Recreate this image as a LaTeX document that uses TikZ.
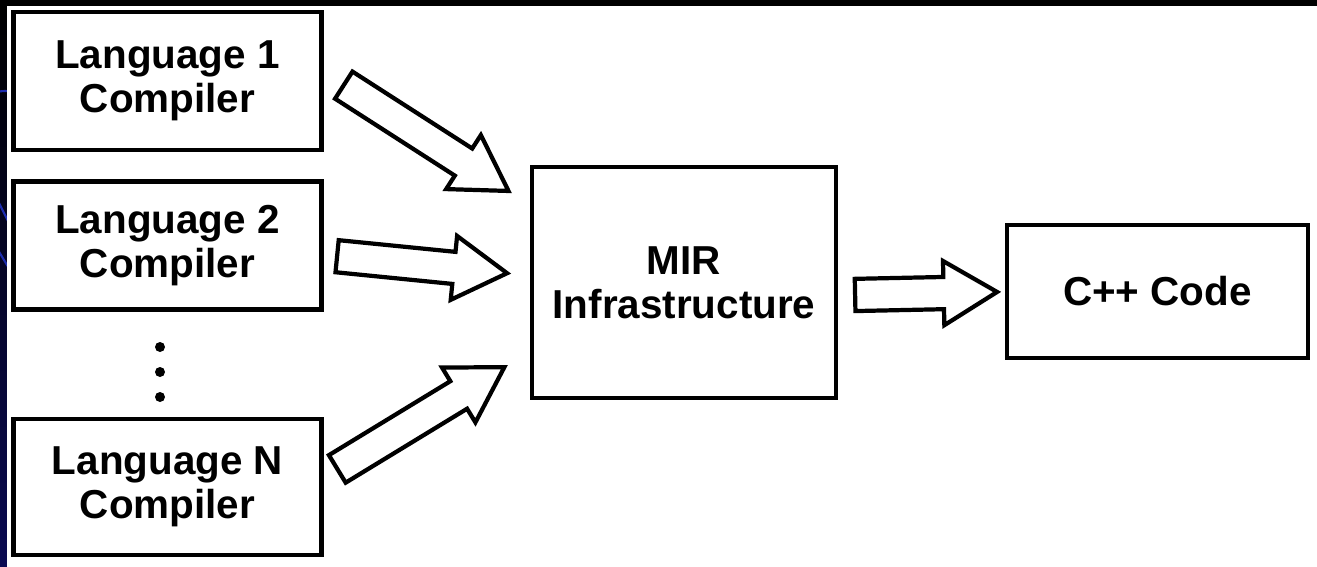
\documentclass[tikz,border=0pt]{standalone}
\usepackage{fontspec}
\setmainfont{Liberation Sans}
\usetikzlibrary{shapes.arrows,calc}

\definecolor{stripnavy}{RGB}{10,10,82}
\definecolor{curveblue}{RGB}{30,45,175}

\tikzset{
  compbox/.style={draw, line width=2.7pt, align=center, inner sep=0pt,
    font=\bfseries\fontsize{23}{25}\selectfont},
  fatarrow/.style={single arrow, draw, line width=2.4pt, fill=white,
    inner xsep=0pt, inner ysep=0.28cm, minimum width=0pt,
    single arrow head extend=0.32cm, single arrow tip angle=62},
  dot/.style={circle, fill, inner sep=0pt, minimum size=0.2cm}
}

\begin{document}
\begin{tikzpicture}
	\useasboundingbox (0,0) rectangle (26.34,-11.34);
	
	% Hintergrund: schwarzer Rand oben, blauer Streifen links
	\fill[white] (0,0) rectangle (26.34,-11.34);
	\fill[black] (0,0) rectangle (26.34,-0.12);
	\shade[top color=black, bottom color=stripnavy] (0,-0.12) rectangle (0.14,-11.34);
	\begin{scope}
		\clip (0,-0.12) rectangle (0.14,-11.34);
		\draw[curveblue, line width=1.2pt] (-0.2,-1.9) arc[start angle=120, end angle=60, radius=0.6];
		\draw[curveblue, line width=1.2pt] (-0.1,-3.9) -- (0.2,-4.5);
		\draw[curveblue, line width=1.2pt] (-0.1,-4.9) -- (0.2,-5.4);
	\end{scope}
	
	% Kaesten
	\node[compbox, minimum width=6.16cm, minimum height=2.76cm] (lang1) at (3.35,-1.62) {Language 1\\Compiler};
	\node[compbox, minimum width=6.16cm, minimum height=2.56cm] (lang2) at (3.35,-4.91) {Language 2\\Compiler};
	\node[compbox, minimum width=6.16cm, minimum height=2.72cm] (langn) at (3.35,-9.74) {Language N\\Compiler};
	\node[compbox, minimum width=6.08cm, minimum height=4.62cm] (mir) at (13.68,-5.65) {MIR\\Infrastructure};
	\node[compbox, minimum width=6.02cm, minimum height=2.66cm] (cpp) at (23.15,-5.83) {C++ Code};
	
	% Punkte
	\node[dot] (dot1) at (3.2,-6.94) {};
	\node[dot] (dot2) at (3.2,-7.44) {};
	\node[dot] (dot3) at (3.2,-7.94) {};
	
	% Pfeile
	\coordinate (a1s) at (6.84,-1.68);
	\coordinate (a1t) at (10.14,-3.80);
	\coordinate (a2s) at (6.70,-5.12);
	\coordinate (a2t) at (10.10,-5.46);
	\coordinate (a3s) at (6.71,-9.40);
	\coordinate (a3t) at (10.06,-7.36);
	\coordinate (a4s) at (17.06,-5.90);
	\coordinate (a4t) at (19.90,-5.84);
	
	\foreach \s/\t in {a1s/a1t, a2s/a2t, a3s/a3t, a4s/a4t}
		\path let \p1=($(\t)-(\s)$), \n1={veclen(\x1,\y1)} in
			(\s) -- (\t) node[fatarrow, pos=0, anchor=tail, sloped, minimum height=\n1] {};
\end{tikzpicture}
\end{document}
